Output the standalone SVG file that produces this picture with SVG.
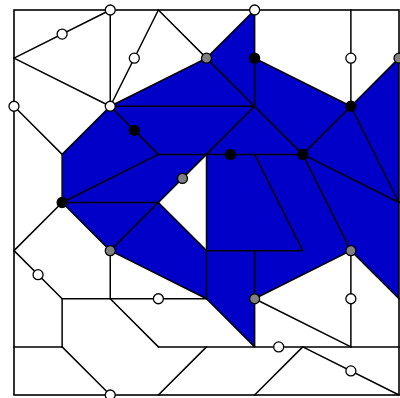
<svg xmlns="http://www.w3.org/2000/svg" width="400" height="398" viewBox="0 0 400 398">
<style>
.bg{fill:#ffffff}
.region{fill:#0000c8;fill-rule:evenodd;stroke:none}
.border{fill:none;stroke:#000;stroke-width:1.6}
.e{stroke:#000;stroke-width:1.5;stroke-linecap:round}
.w{fill:#ffffff;stroke:#000;stroke-width:1.3}
.g{fill:#808080;stroke:#000;stroke-width:1.3}
.b{fill:#000;stroke:#000;stroke-width:1.3}
</style>
<rect class="bg" x="0" y="0" width="400" height="398"/>
<path id="region" class="region" d="M110.25,106.25 L206.5,58.13 L254.63,10 L254.63,58.13 L350.88,106.25 L399,58.13 L399,298.75 L350.88,250.63 L254.63,298.75 L254.63,346.88 L206.5,298.75 L110.25,250.63 L62.13,202.5 L62.13,154.38 Z M206.5,154.38 L158.38,202.5 L206.5,250.63 Z"/>
<g id="connectors">
<rect class="border" x="14" y="10" width="385" height="385"/>
<line class="e" x1="14" y1="58.13" x2="110.25" y2="10"/>
<line class="e" x1="14" y1="58.13" x2="110.25" y2="106.25"/>
<line class="e" x1="110.25" y1="10" x2="110.25" y2="106.25"/>
<line class="e" x1="158.38" y1="10" x2="110.25" y2="106.25"/>
<line class="e" x1="158.38" y1="10" x2="206.5" y2="58.13"/>
<line class="e" x1="110.25" y1="106.25" x2="206.5" y2="58.13"/>
<line class="e" x1="206.5" y1="58.13" x2="254.63" y2="10"/>
<line class="e" x1="254.63" y1="10" x2="254.63" y2="106.25"/>
<line class="e" x1="254.63" y1="58.13" x2="350.88" y2="106.25"/>
<line class="e" x1="350.88" y1="10" x2="350.88" y2="106.25"/>
<line class="e" x1="350.88" y1="106.25" x2="399" y2="58.13"/>
<line class="e" x1="14" y1="106.25" x2="62.13" y2="154.38"/>
<line class="e" x1="62.13" y1="154.38" x2="110.25" y2="106.25"/>
<line class="e" x1="62.13" y1="154.38" x2="62.13" y2="202.5"/>
<line class="e" x1="110.25" y1="106.25" x2="254.63" y2="106.25"/>
<line class="e" x1="206.5" y1="58.13" x2="254.63" y2="106.25"/>
<line class="e" x1="110.25" y1="106.25" x2="158.38" y2="154.38"/>
<line class="e" x1="158.38" y1="154.38" x2="302.75" y2="154.38"/>
<line class="e" x1="62.13" y1="202.5" x2="158.38" y2="154.38"/>
<line class="e" x1="62.13" y1="202.5" x2="158.38" y2="202.5"/>
<line class="e" x1="254.63" y1="106.25" x2="206.5" y2="154.38"/>
<line class="e" x1="254.63" y1="106.25" x2="302.75" y2="154.38"/>
<line class="e" x1="350.88" y1="106.25" x2="302.75" y2="154.38"/>
<line class="e" x1="350.88" y1="106.25" x2="399" y2="202.5"/>
<line class="e" x1="302.75" y1="154.38" x2="399" y2="202.5"/>
<line class="e" x1="302.75" y1="154.38" x2="350.88" y2="250.63"/>
<line class="e" x1="254.63" y1="154.38" x2="302.75" y2="250.63"/>
<line class="e" x1="206.5" y1="250.63" x2="302.75" y2="250.63"/>
<line class="e" x1="206.5" y1="154.38" x2="206.5" y2="298.75"/>
<line class="e" x1="206.5" y1="154.38" x2="158.38" y2="202.5"/>
<line class="e" x1="158.38" y1="202.5" x2="206.5" y2="250.63"/>
<line class="e" x1="158.38" y1="202.5" x2="110.25" y2="250.63"/>
<line class="e" x1="62.13" y1="202.5" x2="110.25" y2="250.63"/>
<line class="e" x1="62.13" y1="202.5" x2="14" y2="250.63"/>
<line class="e" x1="110.25" y1="250.63" x2="206.5" y2="298.75"/>
<line class="e" x1="254.63" y1="250.63" x2="254.63" y2="346.88"/>
<line class="e" x1="206.5" y1="298.75" x2="254.63" y2="346.88"/>
<line class="e" x1="254.63" y1="298.75" x2="350.88" y2="250.63"/>
<line class="e" x1="350.88" y1="250.63" x2="399" y2="298.75"/>
<line class="e" x1="254.63" y1="298.75" x2="350.88" y2="346.88"/>
<line class="e" x1="350.88" y1="250.63" x2="350.88" y2="346.88"/>
<line class="e" x1="14" y1="250.63" x2="62.13" y2="298.75"/>
<line class="e" x1="62.13" y1="298.75" x2="206.5" y2="298.75"/>
<line class="e" x1="110.25" y1="250.63" x2="110.25" y2="298.75"/>
<line class="e" x1="62.13" y1="298.75" x2="62.13" y2="346.88"/>
<line class="e" x1="14" y1="346.88" x2="62.13" y2="346.88"/>
<line class="e" x1="62.13" y1="346.88" x2="110.25" y2="395"/>
<line class="e" x1="110.25" y1="298.75" x2="158.38" y2="346.88"/>
<line class="e" x1="158.38" y1="346.88" x2="399" y2="346.88"/>
<line class="e" x1="206.5" y1="346.88" x2="158.38" y2="395"/>
<line class="e" x1="302.75" y1="346.88" x2="254.63" y2="395"/>
<line class="e" x1="302.75" y1="346.88" x2="399" y2="395"/>
</g>
<g id="n-w1"><circle class="w" cx="110.25" cy="10" r="5"/></g>
<g id="n-w2"><circle class="w" cx="62.13" cy="34.06" r="5"/></g>
<g id="n-w3"><circle class="w" cx="14" cy="106.25" r="5"/></g>
<g id="n-w4"><circle class="w" cx="110.25" cy="106.25" r="5"/></g>
<g id="n-w5"><circle class="w" cx="134.31" cy="58.13" r="5"/></g>
<g id="n-w6"><circle class="w" cx="254.63" cy="10" r="5"/></g>
<g id="n-w7"><circle class="w" cx="350.88" cy="58.13" r="5"/></g>
<g id="n-w8"><circle class="w" cx="38.06" cy="274.69" r="5"/></g>
<g id="n-w9"><circle class="w" cx="158.38" cy="298.75" r="5"/></g>
<g id="n-w10"><circle class="w" cx="110.25" cy="395" r="5"/></g>
<g id="n-w11"><circle class="w" cx="278.69" cy="346.88" r="5"/></g>
<g id="n-w12"><circle class="w" cx="350.88" cy="298.75" r="5"/></g>
<g id="n-w13"><circle class="w" cx="350.88" cy="370.94" r="5"/></g>
<g id="n-g1"><circle class="g" cx="206.5" cy="58.13" r="5"/></g>
<g id="n-g2"><circle class="g" cx="399" cy="58.13" r="5"/></g>
<g id="n-g3"><circle class="g" cx="182.44" cy="178.44" r="5"/></g>
<g id="n-g4"><circle class="g" cx="110.25" cy="250.63" r="5"/></g>
<g id="n-g5"><circle class="g" cx="254.63" cy="298.75" r="5"/></g>
<g id="n-g6"><circle class="g" cx="350.88" cy="250.63" r="5"/></g>
<g id="n-b1"><circle class="b" cx="254.63" cy="58.13" r="5"/></g>
<g id="n-b2"><circle class="b" cx="350.88" cy="106.25" r="5"/></g>
<g id="n-b3"><circle class="b" cx="134.31" cy="130.31" r="5"/></g>
<g id="n-b4"><circle class="b" cx="230.56" cy="154.38" r="5"/></g>
<g id="n-b5"><circle class="b" cx="302.75" cy="154.38" r="5"/></g>
<g id="n-b6"><circle class="b" cx="62.13" cy="202.5" r="5"/></g>
</svg>
